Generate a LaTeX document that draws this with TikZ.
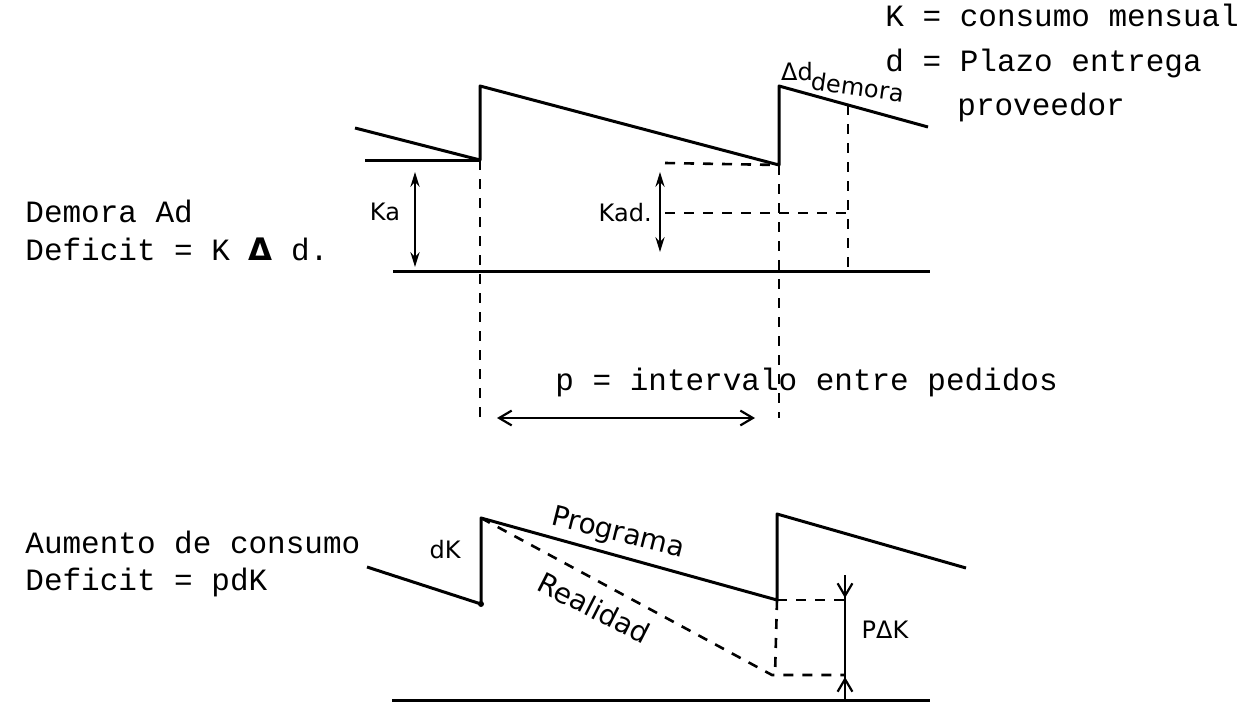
\documentclass[tikz,border=0pt]{standalone}
\usepackage{fontspec}
\usetikzlibrary{arrows.meta}
\newfontfamily\typed{Liberation Mono}
\newfontfamily\hand{DejaVu Sans}

\begin{document}
\begin{tikzpicture}[x=0.5pt, y=-0.5pt,
    stock/.style={line width=1.5pt, line join=round},
    helper/.style={line width=1.3pt, dash pattern=on 5pt off 4.5pt},
    dimarrow/.style={line width=1.1pt, {Stealth[length=2.6mm, width=1.6mm]}-{Stealth[length=2.6mm, width=1.6mm]}},
    spanarrow/.style={line width=1.1pt, {Straight Barb[length=2.2mm, width=2.6mm]}-{Straight Barb[length=2.2mm, width=2.6mm]}},
    typewriter/.style={font=\typed\fontsize{15.5}{18}\selectfont, inner sep=0pt, anchor=base west},
    handwritten/.style={font=\hand\fontsize{12}{14}\selectfont, inner sep=0pt}
]
    \useasboundingbox (0,0) rectangle (1240,717);

    % legend
    \node[typewriter] (kdef) at (885,27) {K = consumo mensual};
    \node[typewriter] (ddef) at (885,72) {d = Plazo entrega};
    \node[typewriter] (prov) at (957,115) {proveedor};

    % upper chart: delay
    \coordinate (t0) at (480,160);
    \coordinate (t1) at (480,86);
    \coordinate (t2) at (779,165);
    \coordinate (t3) at (779,86);
    \coordinate (t4) at (928,127);
    \draw[stock] (355,128) -- (t0) -- (t1) -- (t2) -- (t3) -- (t4);
    \draw[stock] (365,160) -- (t0);
    \draw[stock] (393,271) -- (930,271);
    \draw[helper] (t0) -- (480,418);
    \draw[helper] (t2) -- (779,418);
    \draw[helper] (665,163) -- (t2);
    \draw[helper] (665,213) -- (848,213);
    \draw[helper] (848,105) -- (848,271);
    \draw[dimarrow] (415,172) -- (415,267);
    \draw[dimarrow] (660,172) -- (660,252);
    \draw[spanarrow] (497,418) -- (755,418);

    \node[handwritten] (ka) at (385,212) {Ka};
    \node[handwritten, anchor=east] (kad) at (652,213) {Kad.};
    \node[handwritten] (dd) at (797,72) {Δd};
    \node[handwritten, rotate=-8] (dem) at (858,87) {demora};
    \node[typewriter] (delay) at (25,222) {Demora Ad};
    \node[typewriter] (defa) at (25,260) {Deficit = K {\hand\bfseries Δ} d.};
    \node[typewriter] (pint) at (555,390) {p = intervalo entre pedidos};

    % lower chart: higher consumption
    \coordinate (b0) at (481,604);
    \coordinate (b1) at (481,518);
    \coordinate (b2) at (777,600);
    \coordinate (b3) at (777,514);
    \coordinate (b4) at (966,568);
    \coordinate (b5) at (772,675);
    \draw[stock] (367,567) -- (b0) -- (b1) -- (b2) -- (b3) -- (b4);
    \fill (b0) circle (3);
    \draw[stock] (392,700) -- (930,700);
    \draw[helper] (b1) -- (b5) -- (845,675);
    \draw[helper] (b2) -- (775,675);
    \draw[helper] (b2) -- (845,600);
    \draw[line width=1.1pt] (845,575) -- (845,700);
    \draw[line width=1.1pt, -{Straight Barb[length=2.2mm, width=2.6mm]}] (845,575) -- (845,598);
    \draw[line width=1.1pt, -{Straight Barb[length=2.2mm, width=2.6mm]}] (845,700) -- (845,677);

    \node[handwritten] (dk) at (445,550) {dK};
    \node[handwritten, font=\hand\fontsize{14}{16}\selectfont, rotate=-14] (prog) at (618,534) {Programa};
    \node[handwritten, font=\hand\fontsize{14}{16}\selectfont, rotate=-27] (real) at (594,608) {Realidad};
    \node[handwritten] (pdk) at (885,630) {PΔK};
    \node[typewriter] (more) at (25,553) {Aumento de consumo};
    \node[typewriter] (defb) at (25,590) {Deficit = pdK};
\end{tikzpicture}
\end{document}
